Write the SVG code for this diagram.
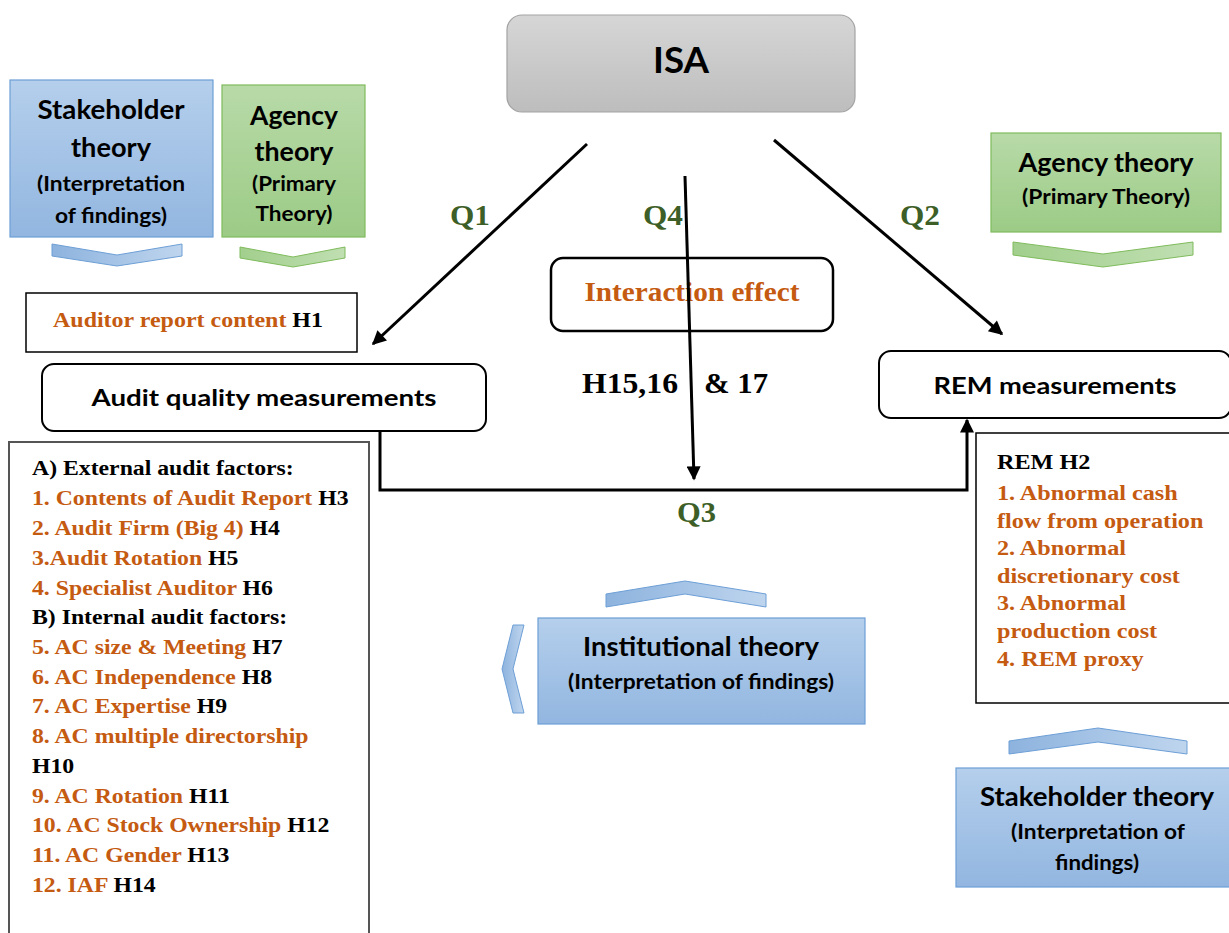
<svg xmlns="http://www.w3.org/2000/svg" width="1229" height="933" viewBox="0 0 1229 933">
  <defs>
    <linearGradient id="gradGray" x1="0" y1="0" x2="0" y2="1">
      <stop offset="0" stop-color="#d6d6d6"/>
      <stop offset="1" stop-color="#bdbdbd"/>
    </linearGradient>
    <linearGradient id="gradBlue" x1="0" y1="0" x2="0" y2="1">
      <stop offset="0" stop-color="#b5cfec"/>
      <stop offset="1" stop-color="#92b6e0"/>
    </linearGradient>
    <linearGradient id="gradGreen" x1="0" y1="0" x2="0" y2="1">
      <stop offset="0" stop-color="#b8daa8"/>
      <stop offset="1" stop-color="#9ccb86"/>
    </linearGradient>
    <linearGradient id="chevBlue" x1="0" y1="0" x2="1" y2="0">
      <stop offset="0" stop-color="#8db3de"/>
      <stop offset="1" stop-color="#bfd5ee"/>
    </linearGradient>
    <linearGradient id="chevGreen" x1="0" y1="0" x2="1" y2="0">
      <stop offset="0" stop-color="#a2cf8d"/>
      <stop offset="1" stop-color="#c0dfb2"/>
    </linearGradient>
    <marker id="arrow" viewBox="0 0 10 10" refX="9" refY="5" markerUnits="userSpaceOnUse" markerWidth="16" markerHeight="14" orient="auto">
      <path d="M0,0 L10,5 L0,10 z" fill="#000"/>
    </marker>
    <style>
      .sans { font-family: Lato, "Open Sans", sans-serif; font-weight: bold; fill: #000; }
      .serif { font-family: "Liberation Serif", "Times New Roman", serif; font-weight: bold; }
      .or { fill: #c55a11; }
      .bk { fill: #000; }
      .q { fill: #3d5f27; font-size: 30px; }
      .t1 { font-size: 26px; }
      .t2 { font-size: 21px; }
      .blueBox { fill: url(#gradBlue); stroke: #6d9fd6; stroke-width: 1.2; }
      .greenBox { fill: url(#gradGreen); stroke: #7fbb5c; stroke-width: 1.2; }
      .chevB { fill: url(#chevBlue); stroke: #6d9fd6; stroke-width: 1; }
      .chevG { fill: url(#chevGreen); stroke: #7fbb5c; stroke-width: 1; }
      .plain { fill: #fff; stroke: #000; stroke-width: 2; }
      .list { fill: #fff; stroke: #555; stroke-width: 2; }
      .wire { fill: none; stroke: #000; stroke-width: 3; }
    </style>
  </defs>

  <!-- top standard box -->
  <g id="isa">
    <rect x="507" y="15" width="348" height="97" rx="15" fill="url(#gradGray)" stroke="#a3a3a3" stroke-width="1.2"/>
    <text class="sans" x="681" y="73" font-size="37" text-anchor="middle" textLength="56" lengthAdjust="spacingAndGlyphs">ISA</text>
  </g>

  <!-- theory boxes, upper left -->
  <g id="stakeholder-left">
    <rect class="blueBox" x="10" y="80" width="203" height="157"/>
    <text class="sans t1" x="111" y="119" text-anchor="middle" textLength="147" lengthAdjust="spacingAndGlyphs">Stakeholder</text>
    <text class="sans t1" x="111" y="157" text-anchor="middle" textLength="80" lengthAdjust="spacingAndGlyphs">theory</text>
    <text class="sans t2" x="111" y="191" text-anchor="middle" textLength="148" lengthAdjust="spacingAndGlyphs">(Interpretation</text>
    <text class="sans t2" x="111" y="223" text-anchor="middle" textLength="112" lengthAdjust="spacingAndGlyphs">of findings)</text>
    <polygon class="chevB" points="52,244 117,255 182,244 182,256 117,266 52,256"/>
  </g>

  <g id="agency-left">
    <rect class="greenBox" x="222" y="85" width="143" height="152"/>
    <text class="sans t1" x="294" y="125" text-anchor="middle" textLength="88" lengthAdjust="spacingAndGlyphs">Agency</text>
    <text class="sans t1" x="294" y="161" text-anchor="middle" textLength="79" lengthAdjust="spacingAndGlyphs">theory</text>
    <text class="sans t2" x="294" y="191" text-anchor="middle" textLength="84" lengthAdjust="spacingAndGlyphs">(Primary</text>
    <text class="sans t2" x="294" y="221" text-anchor="middle" textLength="77" lengthAdjust="spacingAndGlyphs">Theory)</text>
    <polygon class="chevG" points="240,247 293,257 345,247 345,258 293,267 240,258"/>
  </g>

  <!-- theory box, upper right -->
  <g id="agency-right">
    <rect class="greenBox" x="991" y="133" width="230" height="99"/>
    <text class="sans t1" x="1106" y="172" text-anchor="middle" textLength="175" lengthAdjust="spacingAndGlyphs">Agency theory</text>
    <text class="sans t2" x="1106" y="204" text-anchor="middle" textLength="168" lengthAdjust="spacingAndGlyphs">(Primary Theory)</text>
    <polygon class="chevG" points="1013,242 1103,254 1193,242 1193,255 1103,267 1013,255"/>
  </g>

  <g id="auditor-report">
    <rect x="26" y="293" width="331" height="59" fill="#fff" stroke="#000" stroke-width="1.5"/>
    <text class="serif" x="53" y="327" font-size="22" textLength="270" lengthAdjust="spacingAndGlyphs"><tspan class="or">Auditor report content </tspan><tspan class="bk">H1</tspan></text>
  </g>

  <g id="audit-quality">
    <rect class="plain" x="42" y="364" width="444" height="67" rx="12"/>
    <text class="sans" x="264" y="406" font-size="23" text-anchor="middle" textLength="345" lengthAdjust="spacingAndGlyphs">Audit quality measurements</text>
  </g>

  <g id="interaction">
    <rect x="551" y="258" width="282" height="73" rx="12" fill="#fff" stroke="#000" stroke-width="2.5"/>
    <text class="serif or" x="692" y="301" font-size="28" text-anchor="middle" textLength="215" lengthAdjust="spacingAndGlyphs">Interaction effect</text>
  </g>

  <g id="rem">
    <rect class="plain" x="879" y="351" width="352" height="67" rx="12"/>
    <text class="sans" x="1055" y="394" font-size="23" text-anchor="middle" textLength="243" lengthAdjust="spacingAndGlyphs">REM measurements</text>
  </g>

  <g id="audit-factors">
    <rect class="list" x="9" y="442" width="360" height="500"/>
    <g class="serif" font-size="22" transform="matrix(1.08,0,0,1,-2.56,0)">
      <text class="bk" x="32" y="475">A) External audit factors:</text>
      <text x="32" y="505"><tspan class="or">1. Contents of Audit Report </tspan><tspan class="bk">H3</tspan></text>
      <text x="32" y="535"><tspan class="or">2. Audit Firm (Big 4) </tspan><tspan class="bk">H4</tspan></text>
      <text x="32" y="565"><tspan class="or">3.Audit Rotation </tspan><tspan class="bk">H5</tspan></text>
      <text x="32" y="595"><tspan class="or">4. Specialist Auditor </tspan><tspan class="bk">H6</tspan></text>
      <text class="bk" x="32" y="624">B) Internal audit factors:</text>
      <text x="32" y="654"><tspan class="or">5. AC size &amp; Meeting </tspan><tspan class="bk">H7</tspan></text>
      <text x="32" y="684"><tspan class="or">6. AC Independence </tspan><tspan class="bk">H8</tspan></text>
      <text x="32" y="713"><tspan class="or">7. AC Expertise </tspan><tspan class="bk">H9</tspan></text>
      <text class="or" x="32" y="743">8. AC multiple directorship</text>
      <text class="bk" x="32" y="773">H10</text>
      <text x="32" y="803"><tspan class="or">9. AC Rotation </tspan><tspan class="bk">H11</tspan></text>
      <text x="32" y="832"><tspan class="or">10. AC Stock Ownership </tspan><tspan class="bk">H12</tspan></text>
      <text x="32" y="862"><tspan class="or">11. AC Gender </tspan><tspan class="bk">H13</tspan></text>
      <text x="32" y="892"><tspan class="or">12. IAF </tspan><tspan class="bk">H14</tspan></text>
    </g>
  </g>

  <g id="rem-factors">
    <rect x="976" y="433" width="260" height="270" fill="#fff" stroke="#000" stroke-width="1.5"/>
    <g class="serif" font-size="22" transform="matrix(1.1,0,0,1,-99.7,0)">
      <text class="bk" x="997" y="469">REM H2</text>
      <text class="or" x="997" y="500">1. Abnormal cash</text>
      <text class="or" x="997" y="528">flow from operation</text>
      <text class="or" x="997" y="555">2. Abnormal</text>
      <text class="or" x="997" y="583">discretionary cost</text>
      <text class="or" x="997" y="610">3. Abnormal</text>
      <text class="or" x="997" y="638">production cost</text>
      <text class="or" x="997" y="666">4. REM proxy</text>
    </g>
  </g>

  <g id="institutional">
    <rect class="blueBox" x="538" y="618" width="327" height="106"/>
    <text class="sans t1" x="701" y="656" text-anchor="middle" textLength="236" lengthAdjust="spacingAndGlyphs">Institutional theory</text>
    <text class="sans t2" x="701" y="689" text-anchor="middle" textLength="266" lengthAdjust="spacingAndGlyphs">(Interpretation of findings)</text>
    <polygon class="chevB" points="606,594 685,581 766,594 766,607 685,594 606,607"/>
    <polygon class="chevB" points="513,625 524,625 513,669 524,713 513,713 502,669"/>
  </g>

  <g id="stakeholder-right">
    <rect class="blueBox" x="956" y="768" width="280" height="119"/>
    <text class="sans t1" x="1097" y="806" text-anchor="middle" textLength="234" lengthAdjust="spacingAndGlyphs">Stakeholder theory</text>
    <text class="sans t2" x="1098" y="839" text-anchor="middle" textLength="174" lengthAdjust="spacingAndGlyphs">(Interpretation of</text>
    <text class="sans t2" x="1097" y="870" text-anchor="middle" textLength="84" lengthAdjust="spacingAndGlyphs">findings)</text>
    <polygon class="chevB" points="1009,741 1098,728 1187,741 1187,754 1098,742 1009,754"/>
  </g>

  <!-- connectors -->
  <g id="connectors">
    <line class="wire" x1="587" y1="144" x2="373" y2="344" marker-end="url(#arrow)"/>
    <line class="wire" x1="685" y1="176" x2="694" y2="479" marker-end="url(#arrow)"/>
    <line class="wire" x1="774" y1="140" x2="1002" y2="334" marker-end="url(#arrow)"/>
    <polyline class="wire" points="380,431 380,490 967,490 967,420" marker-end="url(#arrow)"/>
  </g>

  <!-- path labels -->
  <g id="labels" class="serif">
    <text class="q" x="450" y="225" textLength="40" lengthAdjust="spacingAndGlyphs">Q1</text>
    <text class="q" x="643" y="225" textLength="40" lengthAdjust="spacingAndGlyphs">Q4</text>
    <text class="q" x="900" y="225" textLength="40" lengthAdjust="spacingAndGlyphs">Q2</text>
    <text class="q" x="677" y="522" textLength="39" lengthAdjust="spacingAndGlyphs">Q3</text>
    <text class="bk" x="582" y="393" font-size="30" textLength="96" lengthAdjust="spacingAndGlyphs">H15,16</text>
    <text class="bk" x="704" y="393" font-size="30" textLength="64" lengthAdjust="spacingAndGlyphs">&amp; 17</text>
  </g>
</svg>
